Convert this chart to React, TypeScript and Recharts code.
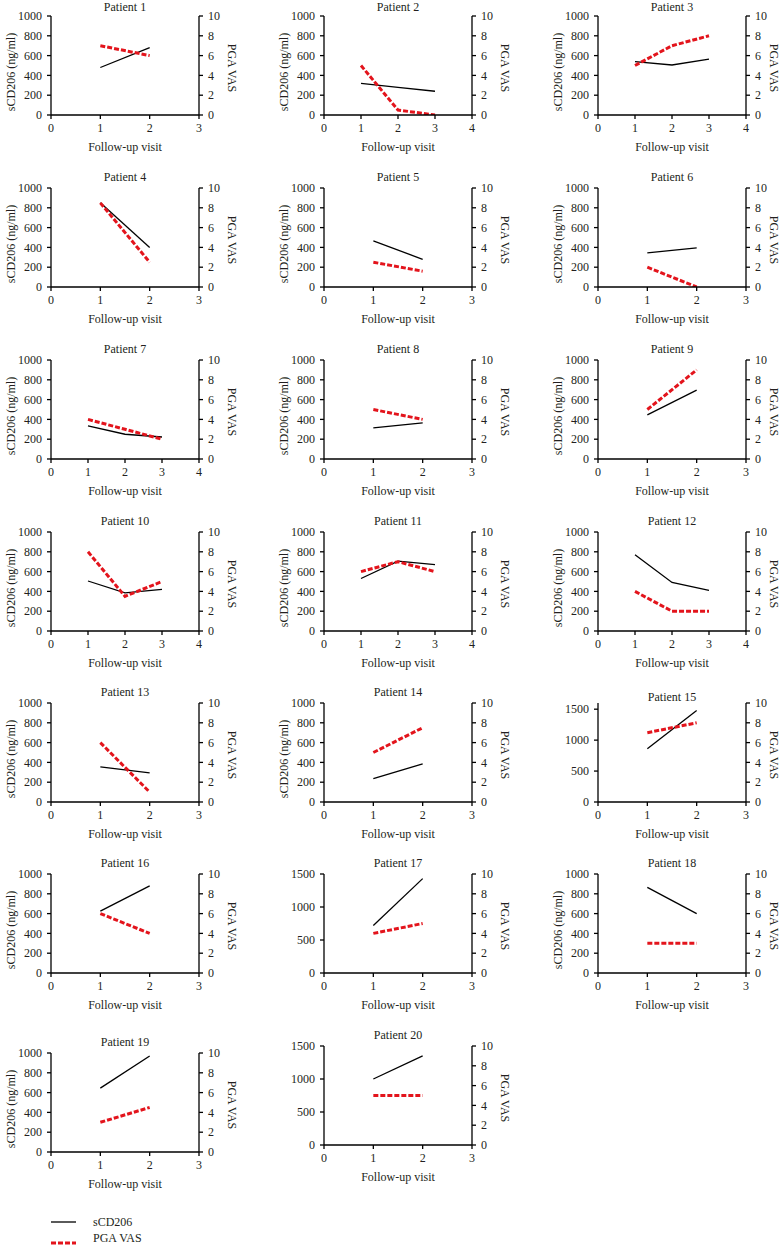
import React from "react";
import { LineChart, Line, XAxis, YAxis } from "recharts";

const titles = [
  "Patient 1", "Patient 2", "Patient 3", "Patient 4", "Patient 5",
  "Patient 6", "Patient 7", "Patient 8", "Patient 9", "Patient 10",
  "Patient 11", "Patient 12", "Patient 13", "Patient 14", "Patient 15",
  "Patient 16", "Patient 17", "Patient 18", "Patient 19", "Patient 20",
];

// last tick on the follow-up visit axis
const xMax = [3, 4, 4, 3, 3, 3, 4, 3, 3, 4, 4, 4, 3, 3, 3, 3, 3, 3, 3, 3];

// top of the sCD206 axis
const leftMax = [1000, 1000, 1000, 1000, 1000, 1000, 1000, 1000, 1000, 1000, 1000, 1000, 1000, 1000, 1600, 1000, 1500, 1000, 1000, 1500];
const leftStep = [200, 200, 200, 200, 200, 200, 200, 200, 200, 200, 200, 200, 200, 200, 500, 200, 500, 200, 200, 500];

// sCD206 (ng/ml) per visit
const sCD206 = [
  [480, 680],
  [320, 280, 240],
  [540, 505, 565],
  [850, 400],
  [465, 280],
  [345, 395],
  [335, 250, 222],
  [315, 365],
  [445, 695],
  [505, 385, 420],
  [530, 705, 670],
  [770, 490, 410],
  [355, 295],
  [235, 385],
  [860, 1480],
  [625, 880],
  [720, 1430],
  [865, 600],
  [645, 970],
  [1000, 1350],
];

// PGA VAS per visit
const pgaVas = [
  [7, 6],
  [5, 0.5, 0],
  [5, 7, 8],
  [8.5, 2.5],
  [2.5, 1.6],
  [2, 0],
  [4, 3, 2],
  [5, 4],
  [5, 9],
  [8, 3.5, 5],
  [6, 7, 6],
  [4, 2, 2],
  [6, 1],
  [5, 7.5],
  [7, 8],
  [6, 4],
  [4, 5],
  [3, 3],
  [3, 4.5],
  [5, 5],
];

const pgaTicks = [0, 2, 4, 6, 8, 10];

// layout
const colLeft = [51, 324, 598];
const rowTop = [16, 188, 360, 532, 703, 874, 1046];
const PW = 148;
const PH = 99;
const LW = 50; // left axis width
const RW = 40; // right axis width
const MT = 6;
const XH = 30;
const FONT = "Liberation Serif, DejaVu Serif, serif";
const INK = "#231f20";
const RED = "#e3141c";

const noLeftLabel = [14, 16, 19];

function range(max: number, step: number) {
  const out: number[] = [];
  for (let v = 0; v <= max; v += step) out.push(v);
  return out;
}

const text = { fontFamily: FONT, fontSize: 12, color: INK, whiteSpace: "nowrap" as const, lineHeight: "14px" };

function Panel({ i }: { i: number }) {
  const col = i % 3;
  const row = Math.floor(i / 3);
  const left = colLeft[col];
  const top = rowTop[row] + (i === 18 ? 7 : 0);
  const data = sCD206[i].map((s, k) => ({ visit: k + 1, s, p: pgaVas[i][k] }));
  const tick = { fontFamily: FONT, fontSize: 12, fill: INK };
  const axisLine = { stroke: "#000", strokeWidth: 1.3 };
  const cx = left + PW / 2;
  const cy = top + PH / 2;
  const titleY = row === 0 ? 7 : top - (i === 14 ? 6 : 11);
  const rightLabelX = left + PW + (col === 2 ? 28 : 33);
  return (
    <>
      <div style={{ ...text, position: "absolute", left: cx, top: titleY, transform: "translate(-50%,-50%)" }}>
        {titles[i]}
      </div>
      <div style={{ position: "absolute", left: left - LW, top: top - MT }}>
        <LineChart width={LW + PW + RW} height={MT + PH + XH} data={data} margin={{ top: MT, right: 0, bottom: 0, left: 0 }}>
          <XAxis
            dataKey="visit"
            type="number"
            domain={[0, xMax[i]]}
            ticks={range(xMax[i], 1)}
            interval={0}
            allowDataOverflow
            height={XH}
            tick={tick}
            tickSize={4}
            tickMargin={4}
            axisLine={axisLine}
            tickLine={axisLine}
          />
          <YAxis
            yAxisId="left"
            orientation="left"
            width={LW}
            domain={[0, leftMax[i]]}
            ticks={range(leftMax[i], leftStep[i])}
            interval={0}
            allowDataOverflow
            tick={tick}
            tickSize={4}
            tickMargin={5}
            axisLine={axisLine}
            tickLine={axisLine}
          />
          <YAxis
            yAxisId="right"
            orientation="right"
            width={RW}
            domain={[0, 10]}
            ticks={pgaTicks}
            interval={0}
            allowDataOverflow
            tick={tick}
            tickSize={4}
            tickMargin={5}
            axisLine={axisLine}
            tickLine={axisLine}
          />
          <Line yAxisId="left" dataKey="s" stroke="#000" strokeWidth={1.3} dot={false} isAnimationActive={false} />
          <Line yAxisId="right" dataKey="p" stroke={RED} strokeWidth={3} strokeDasharray="5 2" dot={false} isAnimationActive={false} />
        </LineChart>
      </div>
      {noLeftLabel.includes(i) ? null : (
        <div style={{ ...text, position: "absolute", left: left - 40, top: cy + 6, transform: "translate(-50%,-50%) rotate(-90deg)" }}>
          sCD206 (ng/ml)
        </div>
      )}
      <div style={{ ...text, position: "absolute", left: rightLabelX, top: cy + 2, transform: "translate(-50%,-50%) rotate(90deg)" }}>
        PGA VAS
      </div>
      <div style={{ ...text, position: "absolute", left: cx, top: top + PH + 32, transform: "translate(-50%,-50%)" }}>
        Follow-up visit
      </div>
    </>
  );
}

export default function App() {
  return (
    <div style={{ position: "absolute", left: 0, top: 0, width: 783, height: 1245, background: "#fff", overflow: "hidden" }}>
      {titles.map((_, i) => (
        <Panel key={i} i={i} />
      ))}
      <svg style={{ position: "absolute", left: 0, top: 1210 }} width={90} height={40}>
        <line x1={51} x2={76} y1={12} y2={12} stroke="#000" strokeWidth={1.3} />
        <line x1={51} x2={76} y1={33} y2={33} stroke={RED} strokeWidth={3} strokeDasharray="5 2" />
      </svg>
      <div style={{ ...text, position: "absolute", left: 93, top: 1222, transform: "translateY(-50%)" }}>sCD206</div>
      <div style={{ ...text, position: "absolute", left: 93, top: 1238, transform: "translateY(-50%)" }}>PGA VAS</div>
    </div>
  );
}
